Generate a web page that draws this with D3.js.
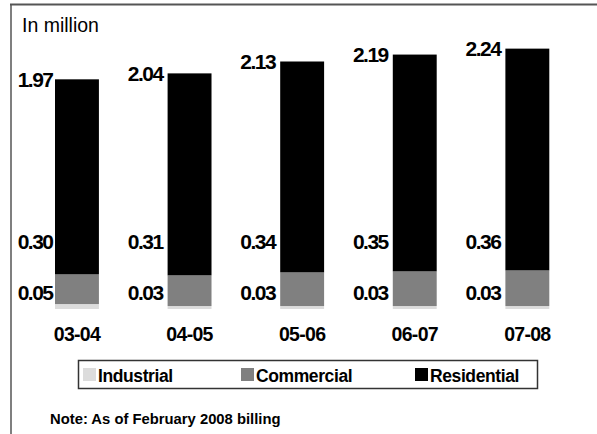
<!DOCTYPE html>
<meta charset="utf-8">
<style>
body { margin: 0; background: #fff; }
text { font-family: Arial, "Liberation Sans", sans-serif; fill: #000; }
.val { font-size: 21px; font-weight: bold; letter-spacing: -1.5px; }
.cat { font-size: 19.5px; font-weight: bold; letter-spacing: -0.7px; }
.leg { font-size: 17.5px; font-weight: bold; letter-spacing: -0.4px; }
</style>
<svg width="597" height="434"></svg>
<script src="https://d3js.org/d3.v7.min.js"></script>
<script>

var years = ["03-04", "04-05", "05-06", "06-07", "07-08"];
var industrial = [0.05, 0.03, 0.03, 0.03, 0.03];
var commercial = [0.30, 0.31, 0.34, 0.35, 0.36];
var residential = [1.97, 2.04, 2.13, 2.19, 2.24];

var seriesNames = ["Industrial", "Commercial", "Residential"];
var seriesColors = ["#dcdcdc", "#808080", "#000000"];

var svg = d3.select("svg");

// frame
svg.append("line")
    .attr("x1", 10).attr("x2", 597).attr("y1", 4.5).attr("y2", 4.5)
    .attr("stroke", "#555").attr("stroke-width", 2);
svg.append("line")
    .attr("x1", 11).attr("x2", 11).attr("y1", 4).attr("y2", 434)
    .attr("stroke", "#555").attr("stroke-width", 1.5);

svg.append("text")
    .attr("x", 22).attr("y", 32)
    .style("font-size", "19.5px")
    .text("In million");

var table = years.map(function(d, i) {
  return {year: d, Industrial: industrial[i], Commercial: commercial[i], Residential: residential[i]};
});
var stack = d3.stack().keys(seriesNames)(table);

var x = d3.scaleBand().domain(years).range([55, 549.3]).paddingInner(0.61).paddingOuter(0);
var y = d3.scaleLinear().domain([0, 2.7]).range([309, 309 - 2.7 * 99]);

var g = svg.append("g");
g.selectAll("g.series")
  .data(stack)
  .enter().append("g")
    .attr("fill", function(d, i) { return seriesColors[i]; })
  .selectAll("rect")
  .data(function(d) { return d; })
  .enter().append("rect")
    .attr("x", function(d) { return x(d.data.year); })
    .attr("width", x.bandwidth())
    .attr("y", function(d) { return y(d[1]); })
    .attr("height", function(d) { return y(d[0]) - y(d[1]); });

// value labels, left of each bar
var labels = svg.append("g").attr("class", "val").attr("text-anchor", "end");
table.forEach(function(d, i) {
  var lx = x(d.year) - (i === 0 ? 2.5 : 5);
  var top = d.Industrial + d.Commercial + d.Residential;
  labels.append("text").attr("x", lx).attr("y", y(top)).attr("dy", "0.36em")
      .text(d3.format(".2f")(d.Residential));
  labels.append("text").attr("x", lx).attr("y", y(0.68)).attr("dy", "0.36em")
      .text(d3.format(".2f")(d.Commercial));
  labels.append("text").attr("x", lx).attr("y", y(0.17)).attr("dy", "0.36em")
      .text(d3.format(".2f")(d.Industrial));
});

// category axis labels
svg.append("g").attr("class", "cat").attr("text-anchor", "middle")
  .selectAll("text")
  .data(years)
  .enter().append("text")
    .attr("x", function(d) { return x(d) + x.bandwidth() / 2; })
    .attr("y", 341)
    .text(function(d) { return d; });

// legend
var legend = svg.append("g");
legend.append("rect")
    .attr("x", 78.5).attr("y", 360.5).attr("width", 459).attr("height", 28)
    .attr("fill", "#fff").attr("stroke", "#333").attr("stroke-width", 1.5);
var legX = [83, 241, 415];
seriesNames.forEach(function(name, i) {
  legend.append("rect")
      .attr("x", legX[i]).attr("y", 368).attr("width", 13).attr("height", 13)
      .attr("fill", seriesColors[i]);
  legend.append("text").attr("class", "leg")
      .attr("x", legX[i] + 15).attr("y", 381.5)
      .text(name);
});

svg.append("text")
    .attr("x", 50).attr("y", 424)
    .style("font-size", "14.8px").style("font-weight", "bold")
    .text("Note: As of February 2008 billing");

</script>
